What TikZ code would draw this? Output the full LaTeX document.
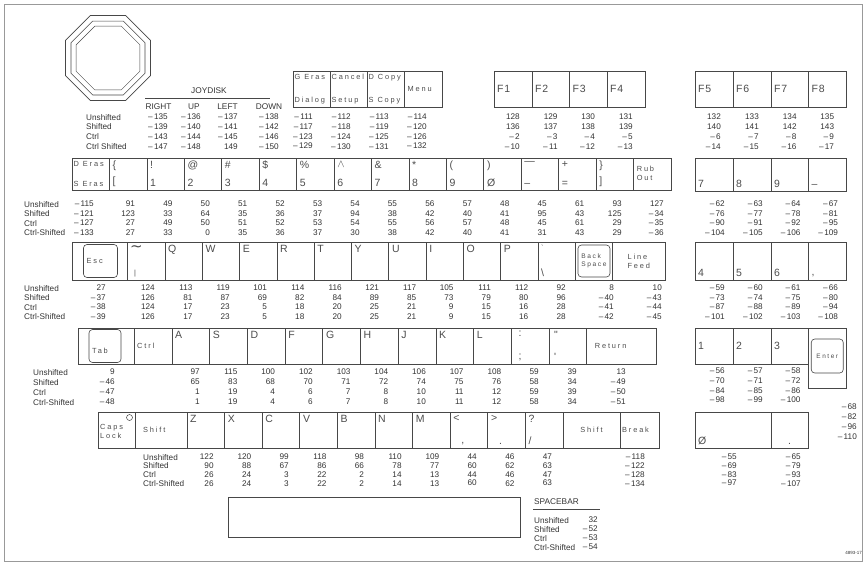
\documentclass[tikz,border=0pt]{standalone}
\usepackage{fontspec}
\setmainfont{Liberation Sans}
\newfontfamily\keyfont[LetterSpace=25]{Liberation Sans}
\newfontfamily\keyfontb[LetterSpace=8]{Liberation Sans}
\newfontfamily\symfont{DejaVu Sans}
\definecolor{ink}{gray}{0.2}
\definecolor{lbl}{gray}{0.3}
\definecolor{edge}{gray}{0.28}
\definecolor{framec}{gray}{0.6}
\newcommand\mn{–\,}
\tikzset{
 keybox/.style={draw=edge,line width=0.7pt,inner sep=0pt,outer sep=0pt},
 rbox/.style={draw=edge,line width=0.6pt,rounded corners=3.5pt,inner sep=0pt,outer sep=0pt},
 big/.style={font=\keyfontb\fontsize{10.5}{11}\selectfont,text=lbl,inner sep=0pt},
 sml/.style={font=\keyfont\fontsize{7.4}{9}\selectfont,text=lbl,inner sep=0pt,align=left},
 vals/.style={font=\fontsize{8.2}{#1}\selectfont,text=ink,inner sep=0pt,align=right},
 vals/.default=9.5,
 rowlab/.style={font=\fontsize{8.2}{#1}\selectfont,text=ink,inner sep=0pt,align=left},
 rowlab/.default=9.5,
 hdr/.style={font=\fontsize{8.3}{9}\selectfont,text=ink,inner sep=0pt},
 rule/.style={draw=edge,line width=0.6pt},
 frame/.style={draw=framec,line width=0.6pt},
}
\newcommand\Key[5]{\node[keybox,anchor=north west,minimum width={((#4)-(#2))*1pt},minimum height={((#5)-(#3))*1pt}] (#1) at ({#2},{#3}) {};}
\newcommand\TL[3][big]{\node[#1,anchor=north west] (#2t) at ([xshift=3pt,yshift=-3pt]#2.north west) {#3};}
\newcommand\BL[3][big]{\node[#1,anchor=south west] (#2b) at ([xshift=3pt,yshift=3pt]#2.south west) {#3};}
\newcommand\ML[3][big]{\node[#1,anchor=west] (#2m) at ([xshift=3pt]#2.west) {#3};}
\newcommand\MC[3][big]{\node[#1] (#2c) at (#2.center) {#3};}
\newcommand\Vals[5][9.5]{\node[vals=#1,anchor=north east] (#2v) at ({#3},{#4}) {#5};}
\begin{document}
\begin{tikzpicture}[x=1pt,y=-1pt]
\useasboundingbox (0,0) rectangle (866,566);
\draw[frame] (4,4) rectangle (862,561);
% joydisk octagon
\foreach \r/\w in {46.0/0.8,40.0/0.6,34.5/0.45}{
 \draw[draw=edge,line width=\w pt] (108,58) +(22.5:\r) -- +(67.5:\r) -- +(112.5:\r) -- +(157.5:\r) -- +(202.5:\r) -- +(247.5:\r) -- +(292.5:\r) -- +(337.5:\r) -- cycle;}
% joydisk table
\node[hdr] (joy) at (209,91) {JOYDISK};
\coordinate (jl) at (145,98.5); \coordinate (jr) at (270,98.5);
\draw[rule] (jl) -- (jr);
\node[hdr] (hR) at (158.5,107) {RIGHT};
\node[hdr] (hU) at (194,107) {UP};
\node[hdr] (hL) at (227.5,107) {LEFT};
\node[hdr] (hD) at (269,107) {DOWN};
\node[rowlab=9.7,anchor=north west] (lab0) at (86,114) {Unshifted\\Shifted\\Ctrl\\Ctrl Shifted};
\Vals[9.7]{jR}{168}{114}{\mn135\\\mn139\\\mn143\\\mn147}
\Vals[9.7]{jU}{201}{114}{\mn136\\\mn140\\\mn144\\\mn148}
\Vals[9.7]{jL}{238}{114}{\mn137\\\mn141\\\mn145\\149}
\Vals[9.7]{jD}{279}{114}{\mn138\\\mn142\\\mn146\\\mn150}
% top function keys
\Key{ge}{293}{71}{330}{107}\TL[sml,xshift=-1.5pt]{ge}{G Eras}\BL[sml,xshift=-1.5pt]{ge}{Dialog}
\Key{ca}{330}{71}{367}{107}\TL[sml,xshift=-1.5pt]{ca}{Cancel}\BL[sml,xshift=-1.5pt]{ca}{Setup}
\Key{dc}{367}{71}{404.5}{107}\TL[sml,xshift=-1.5pt]{dc}{D Copy}\BL[sml,xshift=-1.5pt]{dc}{S Copy}
\Key{me}{404.5}{71}{442}{107}\ML[sml]{me}{Menu}
\Vals[9.7]{ge}{313}{114}{\mn111\\\mn117\\\mn123\\\mn129}
\Vals[9.7]{ca}{351}{114}{\mn112\\\mn118\\\mn124\\\mn130}
\Vals[9.7]{dc}{389}{114}{\mn113\\\mn119\\\mn125\\\mn131}
\Vals[9.7]{me}{427}{114}{\mn114\\\mn120\\\mn126\\\mn132}
\foreach \nm/\xa/\xb/\lab/\va in {
 fa/494/532/F1/{128\\136\\\mn2\\\mn10},
 fb/532/569.5/F2/{129\\137\\\mn3\\\mn11},
 fc/569.5/607/F3/{130\\138\\\mn4\\\mn12},
 fd/607/645/F4/{131\\139\\\mn5\\\mn13},
 fe/695/733/F5/{132\\140\\\mn6\\\mn14},
 ff/733/771/F6/{133\\141\\\mn7\\\mn15},
 fg/771/808.5/F7/{134\\142\\\mn8\\\mn16},
 fh/808.5/846/F8/{135\\143\\\mn9\\\mn17}}
{\Key{\nm}{\xa}{71}{\xb}{107}\ML{\nm}{\lab}\Vals[9.7]{\nm}{(\xa+\xb)/2+7}{114}{\va}}
% row 1
\node[rowlab,anchor=north west] (lab1) at (24,201) {Unshifted\\Shifted\\Ctrl\\Ctrl-Shifted};
\Key{dera}{72}{158}{109.44}{190}\TL[sml,xshift=-1.5pt]{dera}{D Eras}\BL[sml,xshift=-1.5pt]{dera}{S Eras}
\Vals{dera}{94}{201}{\mn115\\\mn121\\\mn127\\\mn133}
\foreach \i/\nm/\up/\lo/\va in {
 1/kbrk/\{/[/{91\\123\\27\\27},
 2/kone/!/1/{49\\33\\49\\33},
 3/ktwo/@/2/{50\\64\\50\\0},
 4/kthr/\#/3/{51\\35\\51\\35},
 5/kfou/\$/4/{52\\36\\52\\36},
 6/kfiv/\%/5/{53\\37\\53\\37},
 7/ksix/$\wedge$/6/{54\\94\\54\\30},
 8/ksev/\&/7/{55\\38\\55\\38},
 9/keig/*/8/{56\\42\\56\\42},
 10/knin/(/9/{57\\40\\57\\40},
 11/kzer/)/Ø/{48\\41\\48\\41},
 12/kmin/—/–/{45\\95\\45\\31},
 13/kequ/+/=/{61\\43\\61\\43},
 14/krbr/\}/]/{93\\125\\29\\29}}
{\Key{\nm}{72+37.44*\i}{158}{109.44+37.44*\i}{190}
 \TL{\nm}{\up}\BL{\nm}{\lo}
 \Vals{\nm}{97.7+37.44*\i}{201}{\va}}
\Key{rub}{633.6}{158}{671.04}{190}\TL[sml,yshift=-5pt]{rub}{Rub\\Out}
\Vals{rub}{664}{201}{127\\\mn34\\\mn35\\\mn36}
% row 2
\node[rowlab,anchor=north west] (lab2) at (24,285) {Unshifted\\Shifted\\Ctrl\\Ctrl-Shifted};
\Key{esc}{72}{242}{127}{280}
\node[rbox,minimum width=34pt,minimum height=33pt] (escr) at ([xshift=1pt]esc.center) {};
\ML[sml]{escr}{Esc}
\Vals{esc}{106}{285}{27\\\mn37\\\mn38\\\mn39}
\Key{tild}{127}{242}{165}{280}
\TL[font=\symfont\fontsize{15}{15}\selectfont,text=lbl,inner sep=0pt]{tild}{∼}
\BL[sml,xshift=4pt]{tild}{|}
\Vals{tild}{155}{285}{124\\126\\124\\126}
\foreach \nm/\xa/\xb/\lab/\va in {
 kq/165/202.3/Q/{113\\81\\17\\17},
 kw/202.3/239.6/W/{119\\87\\23\\23},
 ke/239.6/276.9/E/{101\\69\\5\\5},
 kr/276.9/314.2/R/{114\\82\\18\\18},
 kt/314.2/351.5/T/{116\\84\\20\\20},
 ky/351.5/388.8/Y/{121\\89\\25\\25},
 ku/388.8/426.1/U/{117\\85\\21\\21},
 ki/426.1/463.4/I/{105\\73\\9\\9},
 ko/463.4/500.7/O/{111\\79\\15\\15},
 kp/500.7/538/P/{112\\80\\16\\16}}
{\Key{\nm}{\xa}{242}{\xb}{280}\TL{\nm}{\lab}\Vals{\nm}{(\xa+\xb)/2+9}{285}{\va}}
\Key{bsl}{538}{242}{575.3}{280}\TL[sml]{bsl}{`}\BL{bsl}{\textbackslash}
\Vals{bsl}{566}{285}{92\\96\\28\\28}
\Key{bsp}{575.3}{242}{612.6}{280}
\node[rbox,minimum width=32pt,minimum height=32pt] (bspr) at (bsp.center) {};
\MC[sml,font=\keyfont\fontsize{6.6}{8.5}\selectfont]{bspr}{Back\\Space}
\Vals{bsp}{614}{285}{8\\\mn40\\\mn41\\\mn42}
\Key{lf}{612.6}{242}{665}{280}\MC[sml]{lf}{Line\\Feed}
\Vals{lf}{662}{285}{10\\\mn43\\\mn44\\\mn45}
% row 3
\node[rowlab=10,anchor=north west] (lab3) at (33,369) {Unshifted\\Shifted\\Ctrl\\Ctrl-Shifted};
\Key{tab}{78}{328}{134}{364}
\node[rbox,minimum width=32pt,minimum height=33pt] (tabr) at ([xshift=-1pt]tab.center) {};
\BL[sml,yshift=6pt]{tabr}{Tab}
\Vals[10]{tab}{115}{369}{9\\\mn46\\\mn47\\\mn48}
\Key{ctl}{134}{328}{172}{364}\ML[sml]{ctl}{Ctrl}
\foreach \nm/\xa/\xb/\lab/\va in {
 ka/172/209.7/A/{97\\65\\1\\1},
 ks/209.7/247.4/S/{115\\83\\19\\19},
 kd/247.4/285.1/D/{100\\68\\4\\4},
 kf/285.1/322.8/F/{102\\70\\6\\6},
 kg/322.8/360.5/G/{103\\71\\7\\7},
 kh/360.5/398.2/H/{104\\72\\8\\8},
 kj/398.2/435.9/J/{106\\74\\10\\10},
 kk/435.9/473.6/K/{107\\75\\11\\11},
 kl/473.6/511.3/L/{108\\76\\12\\12}}
{\Key{\nm}{\xa}{328}{\xb}{364}\TL{\nm}{\lab}\Vals[10]{\nm}{(\xa+\xb)/2+9}{369}{\va}}
\Key{ksc}{511.3}{328}{549}{364}\TL[big,xshift=4pt]{ksc}{:}\BL[big,xshift=4pt]{ksc}{;}
\Vals[10]{ksc}{539}{369}{59\\58\\59\\58}
\Key{kqt}{549}{328}{586.7}{364}\TL[big,xshift=2pt]{kqt}{"}\BL[big,xshift=2pt]{kqt}{\textquotesingle}
\Vals[10]{kqt}{577}{369}{39\\34\\39\\34}
\Key{ret}{586.7}{328}{656}{364}\ML[sml,xshift=5pt]{ret}{Return}
\Vals[10]{ret}{626}{369}{13\\\mn49\\\mn50\\\mn51}
% row 4
\node[rowlab=8.7,anchor=north west] (lab4) at (143,454) {Unshifted\\Shifted\\Ctrl\\Ctrl-Shifted};
\Key{caps}{98}{412}{135}{448}\ML[sml,yshift=-1pt,xshift=-1pt]{caps}{Caps\\Lock}
\node[circle,draw=edge,line width=0.5pt,minimum size=6pt,inner sep=0pt] (capled) at ([xshift=-5.5pt,yshift=-5.5pt]caps.north east) {};
\Key{shl}{135}{412}{187}{448}\ML[sml,xshift=5pt]{shl}{Shift}
\foreach \nm/\xa/\xb/\lab/\va in {
 kz/187/224.6/Z/{122\\90\\26\\26},
 kx/224.6/262.2/X/{120\\88\\24\\24},
 kc/262.2/299.8/C/{99\\67\\3\\3},
 kv/299.8/337.4/V/{118\\86\\22\\22},
 kb/337.4/375/B/{98\\66\\2\\2},
 kn/375/412.6/N/{110\\78\\14\\14},
 km/412.6/450.2/M/{109\\77\\13\\13}}
{\Key{\nm}{\xa}{412}{\xb}{448}\TL{\nm}{\lab}\Vals[8.7]{\nm}{(\xa+\xb)/2+8}{454}{\va}}
\Key{klt}{450.2}{412}{487.8}{448}\TL{klt}{<}\BL[big,xshift=8pt]{klt}{,}
\Vals[8.7]{klt}{477}{454}{44\\60\\44\\60}
\Key{kgt}{487.8}{412}{525.4}{448}\TL{kgt}{>}\BL[big,xshift=8pt]{kgt}{.}
\Vals[8.7]{kgt}{514.6}{454}{46\\62\\46\\62}
\Key{kqm}{525.4}{412}{563}{448}\TL{kqm}{?}\BL{kqm}{/}
\Vals[8.7]{kqm}{552.2}{454}{47\\63\\47\\63}
\Key{shr}{563}{412}{620}{448}\MC[sml]{shr}{Shift}
\Key{brk}{620}{412}{659}{448}\ML[sml,xshift=-1pt]{brk}{Break}
\Vals[8.7]{brk}{645}{454}{\mn118\\\mn122\\\mn128\\\mn134}
% spacebar
\Key{spc}{228}{497}{520}{537}
\node[hdr,anchor=west] (spch) at (534,502) {SPACEBAR};
\coordinate (sl) at (533,509.5); \coordinate (sr) at (600,509.5);
\draw[rule] (sl) -- (sr);
\node[rowlab=9,anchor=north west] (labs) at (534,517) {Unshifted\\Shifted\\Ctrl\\Ctrl-Shifted};
\Vals[9]{spc}{598}{517}{32\\\mn52\\\mn53\\\mn54}
% numeric pad
\foreach \nm/\xa/\xb/\lab/\va in {
 n7/695/733/7/{\mn62\\\mn76\\\mn90\\\mn104},
 n8/733/771/8/{\mn63\\\mn77\\\mn91\\\mn105},
 n9/771/808.5/9/{\mn64\\\mn78\\\mn92\\\mn106},
 nmi/808.5/846/–/{\mn67\\\mn81\\\mn95\\\mn109}}
{\Key{\nm}{\xa}{158}{\xb}{191}\BL{\nm}{\lab}\Vals{\nm}{(\xa+\xb)/2+11}{201}{\va}}
\foreach \nm/\xa/\xb/\lab/\va in {
 n4/695/733/4/{\mn59\\\mn73\\\mn87\\\mn101},
 n5/733/771/5/{\mn60\\\mn74\\\mn88\\\mn102},
 n6/771/808.5/6/{\mn61\\\mn75\\\mn89\\\mn103},
 nco/808.5/846/{,}/{\mn66\\\mn80\\\mn94\\\mn108}}
{\Key{\nm}{\xa}{242}{\xb}{280}\BL{\nm}{\lab}\Vals{\nm}{(\xa+\xb)/2+11}{285}{\va}}
\foreach \nm/\xa/\xb/\lab/\va in {
 n1/695/733/1/{\mn56\\\mn70\\\mn84\\\mn98},
 n2/733/771/2/{\mn57\\\mn71\\\mn85\\\mn99},
 n3/771/808.5/3/{\mn58\\\mn72\\\mn86\\\mn100}}
{\Key{\nm}{\xa}{328}{\xb}{364}\ML{\nm}{\lab}\Vals[9.6]{\nm}{(\xa+\xb)/2+11}{368}{\va}}
\Key{ent}{808.5}{328}{846}{388}
\node[rbox,minimum width=32pt,minimum height=34pt] (entr) at ([yshift=2pt]ent.center) {};
\MC[sml,font=\keyfont\fontsize{6.4}{8}\selectfont]{entr}{Enter}
\Vals[10]{ent}{857}{404}{\mn68\\\mn82\\\mn96\\\mn110}
\Key{n0}{695}{412}{771}{448}\BL{n0}{Ø}
\Vals[8.7]{n0}{737}{454}{\mn55\\\mn69\\\mn83\\\mn97}
\Key{ndt}{771}{412}{808.5}{448}\BL[big,xshift=14pt]{ndt}{.}
\Vals[8.7]{ndt}{801}{454}{\mn65\\\mn79\\\mn93\\\mn107}
\node[font=\fontsize{4.5}{5}\selectfont,text=ink,inner sep=0pt,anchor=east] (fig) at (862,553) {4893-17};
\end{tikzpicture}
\end{document}
